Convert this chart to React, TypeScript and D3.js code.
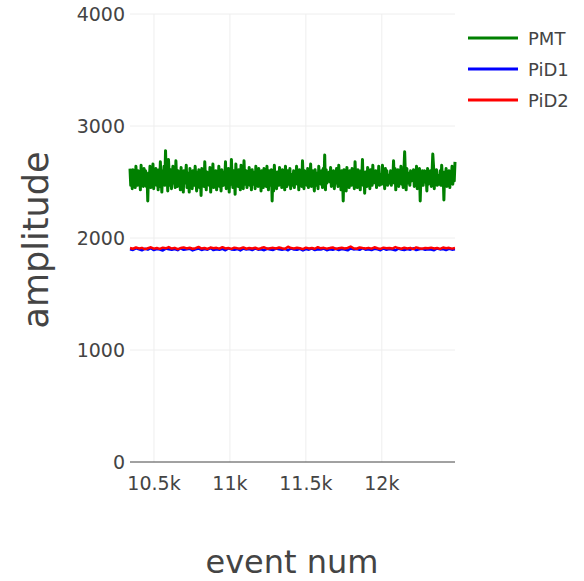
import React, { useEffect, useRef } from "react";
import * as d3 from "d3";

// event numbers covered by the samples (first and last)
const firstEvent = 10342;
const lastEvent = 12482;

const pmt = [
  2620, 2470, 2590, 2440, 2610, 2500, 2560, 2450, 2640, 2520, 2470, 2600, 2480, 2580, 2430, 2650, 2500, 2570, 2460, 2620,
  2510, 2600, 2460, 2560, 2330, 2580, 2490, 2640, 2450, 2570, 2520, 2660, 2440, 2590, 2500, 2620, 2470, 2550, 2430, 2610,
  2460, 2680, 2530, 2410, 2600, 2500, 2640, 2470, 2780, 2520, 2590, 2420, 2700, 2550, 2470, 2610, 2440, 2570, 2640, 2490,
  2530, 2450, 2690, 2520, 2460, 2600, 2500, 2580, 2430, 2630, 2480, 2560, 2410, 2600, 2490, 2540, 2650, 2450, 2580, 2520,
  2410, 2620, 2480, 2560, 2440, 2600, 2510, 2470, 2640, 2530, 2420, 2590, 2500, 2610, 2450, 2570, 2380, 2620, 2490, 2550,
  2460, 2680, 2520, 2430, 2590, 2500, 2560, 2470, 2630, 2410, 2580, 2520, 2660, 2450, 2540, 2490, 2600, 2430, 2570, 2510,
  2640, 2460, 2550, 2420, 2610, 2500, 2470, 2590, 2530, 2680, 2440, 2560, 2500, 2620, 2410, 2570, 2480, 2700, 2520, 2450,
  2600, 2540, 2390, 2660, 2500, 2580, 2460, 2610, 2520, 2430, 2650, 2490, 2570, 2440, 2690, 2510, 2480, 2600, 2450, 2580,
  2500, 2630, 2470, 2560, 2430, 2610, 2520, 2480, 2590, 2440, 2640, 2510, 2560, 2460, 2620, 2490, 2570, 2420, 2600, 2530,
  2450, 2620, 2510, 2580, 2460, 2640, 2500, 2430, 2600, 2540, 2470, 2610, 2330, 2570, 2420, 2650, 2490, 2560, 2440, 2590,
  2520, 2470, 2630, 2500, 2580, 2450, 2610, 2490, 2550, 2430, 2640, 2510, 2460, 2600, 2530, 2480, 2620, 2440, 2570, 2510,
  2470, 2600, 2450, 2580, 2520, 2640, 2480, 2560, 2430, 2610, 2500, 2570, 2460, 2690, 2520, 2440, 2600, 2500, 2580, 2470,
  2620, 2450, 2560, 2510, 2660, 2460, 2590, 2600, 2500, 2420, 2610, 2530, 2470, 2580, 2440, 2640, 2510, 2560, 2480, 2600,
  2450, 2620, 2500, 2740, 2430, 2610, 2490, 2550, 2550, 2590, 2500, 2630, 2460, 2580, 2520, 2600, 2440, 2570, 2490, 2620,
  2510, 2460, 2650, 2500, 2580, 2430, 2600, 2540, 2330, 2610, 2490, 2560, 2420, 2630, 2510, 2580, 2450, 2600, 2530, 2470,
  2620, 2500, 2560, 2440, 2680, 2510, 2580, 2450, 2610, 2490, 2540, 2430, 2600, 2520, 2700, 2470, 2570, 2400, 2590, 2510,
  2460, 2630, 2500, 2580, 2440, 2610, 2530, 2470, 2650, 2490, 2560, 2520, 2600, 2450, 2580, 2510, 2640, 2470, 2570, 2500,
  2480, 2650, 2510, 2580, 2440, 2620, 2530, 2600, 2470, 2560, 2560, 2490, 2600, 2470, 2560, 2520, 2690, 2490, 2620, 2430,
  2580, 2500, 2610, 2460, 2570, 2520, 2640, 2480, 2590, 2450, 2600, 2770, 2560, 2430, 2620, 2490, 2580, 2540, 2470, 2600,
  2510, 2520, 2560, 2610, 2460, 2570, 2500, 2640, 2440, 2590, 2520, 2620, 2330, 2560, 2510, 2600, 2470, 2580, 2600, 2500,
  2560, 2420, 2620, 2480, 2570, 2530, 2600, 2460, 2580, 2750, 2640, 2440, 2590, 2500, 2610, 2470, 2560, 2530, 2480, 2600,
  2470, 2650, 2510, 2580, 2340, 2590, 2510, 2620, 2460, 2560, 2500, 2600, 2450, 2590, 2530, 2640, 2480, 2570, 2510, 2680,
];

const pid1 = [
  1900, 1893, 1907, 1898, 1890, 1904, 1896, 1909, 1892, 1901,
  1897, 1888, 1905, 1899, 1894, 1902, 1891, 1908, 1895, 1900,
  1904, 1889, 1898, 1906, 1893, 1901, 1896, 1910, 1892, 1899,
  1895, 1903, 1890, 1907, 1898, 1894, 1902, 1889, 1905, 1897,
  1901, 1892, 1908, 1896, 1900, 1891, 1904, 1898, 1893, 1906,
  1899, 1895, 1902, 1890, 1907, 1897, 1894, 1903, 1889, 1901,
  1896, 1908, 1892, 1900, 1898, 1905, 1891, 1899, 1895, 1904,
  1893, 1902, 1897, 1890, 1906, 1898, 1901, 1894, 1909, 1896,
  1900, 1892, 1904, 1899, 1891, 1907, 1895, 1902, 1897, 1890,
  1905, 1898, 1893, 1901, 1896, 1908, 1892, 1899, 1903, 1894,
  1900, 1897, 1891, 1906, 1898, 1902, 1893, 1904, 1896, 1899,
];

const pid2 = [
  1910, 1904, 1915, 1907, 1912, 1901, 1909, 1917, 1905, 1911,
  1903, 1914, 1908, 1919, 1906, 1912, 1900, 1910, 1916, 1907,
  1913, 1904, 1909, 1920, 1906, 1911, 1902, 1915, 1908, 1912,
  1905, 1918, 1907, 1910, 1903, 1914, 1909, 1906, 1916, 1904,
  1911, 1907, 1913, 1902, 1910, 1917, 1905, 1909, 1912, 1906,
  1915, 1908, 1903, 1922, 1910, 1906, 1913, 1909, 1901, 1914,
  1907, 1911, 1904, 1918, 1908, 1912, 1905, 1910, 1916, 1903,
  1909, 1913, 1906, 1911, 1924, 1908, 1904, 1915, 1910, 1907,
  1912, 1905, 1917, 1909, 1903, 1914, 1908, 1911, 1906, 1919,
  1910, 1904, 1913, 1907, 1912, 1901, 1916, 1909, 1905, 1911,
  1908, 1914, 1906, 1910, 1903, 1915, 1909, 1912, 1905, 1910,
];

const seriesNames = ["PMT", "PiD1", "PiD2"];
const seriesColors = ["green", "blue", "red"];
const xTicks = [10500, 11000, 11500, 12000];
const xTickLabels = ["10.5k", "11k", "11.5k", "12k"];
const yTicks = [0, 1000, 2000, 3000, 4000];

const W = 584;
const H = 581;
const font = "'DejaVu Sans', Verdana, sans-serif";

const App = () => {
  const ref = useRef<SVGSVGElement | null>(null);

  useEffect(() => {
    const svg = d3.select(ref.current);
    svg.selectAll("*").remove();

    const left = 130, right = 455, top = 14, bottom = 462;
    const x = d3.scaleLinear().domain([firstEvent, lastEvent]).range([left, right]);
    const y = d3.scaleLinear().domain([0, 4000]).range([bottom, top]);

    // grid
    svg.append("g")
      .selectAll("line")
      .data(xTicks)
      .enter()
      .append("line")
      .attr("x1", (d) => x(d)).attr("x2", (d) => x(d))
      .attr("y1", top).attr("y2", bottom)
      .attr("stroke", "#eee").attr("stroke-width", 1);
    svg.append("g")
      .selectAll("line")
      .data(yTicks.filter((d) => d > 0))
      .enter()
      .append("line")
      .attr("x1", left).attr("x2", right)
      .attr("y1", (d) => y(d)).attr("y2", (d) => y(d))
      .attr("stroke", "#eee").attr("stroke-width", 1);

    const datasets = [pmt, pid1, pid2];
    datasets.forEach((vals, k) => {
      const xs = d3.scaleLinear().domain([0, vals.length - 1]).range([firstEvent, lastEvent]);
      const line = d3.line<number>()
        .x((d, i) => x(xs(i)))
        .y((d) => y(d));
      svg.append("path")
        .datum(vals)
        .attr("d", line)
        .attr("fill", "none")
        .attr("stroke", seriesColors[k])
        .attr("stroke-width", k === 0 ? 3 : 2.5)
        .attr("stroke-linejoin", "round");
    });

    // zero line
    svg.append("line")
      .attr("x1", left).attr("x2", right)
      .attr("y1", y(0)).attr("y2", y(0))
      .attr("stroke", "#444").attr("stroke-width", 1);

    // tick labels
    svg.append("g")
      .selectAll("text")
      .data(xTicks)
      .enter()
      .append("text")
      .attr("x", (d) => x(d))
      .attr("y", 490)
      .attr("text-anchor", "middle")
      .attr("font-family", font)
      .attr("font-size", 19)
      .attr("fill", "#444")
      .text((d, i) => xTickLabels[i]);
    svg.append("g")
      .selectAll("text")
      .data(yTicks)
      .enter()
      .append("text")
      .attr("x", 125)
      .attr("y", (d) => y(d) + 7)
      .attr("text-anchor", "end")
      .attr("font-family", font)
      .attr("font-size", 19)
      .attr("fill", "#444")
      .text((d) => String(d));

    // axis titles
    svg.append("text")
      .attr("x", 292).attr("y", 573)
      .attr("text-anchor", "middle")
      .attr("font-family", font)
      .attr("font-size", 32)
      .attr("fill", "#444")
      .text("event num");
    svg.append("text")
      .attr("transform", "translate(48,240) rotate(-90)")
      .attr("text-anchor", "middle")
      .attr("font-family", font)
      .attr("font-size", 35)
      .attr("fill", "#444")
      .text("amplitude");

    // legend
    const leg = svg.append("g")
      .selectAll("g")
      .data(seriesNames)
      .enter()
      .append("g")
      .attr("transform", (d, i) => `translate(468,${38 + i * 31})`);
    leg.append("line")
      .attr("x1", 0).attr("x2", 50)
      .attr("stroke", (d, i) => seriesColors[i])
      .attr("stroke-width", 3);
    leg.append("text")
      .attr("x", 60).attr("y", 6.5)
      .attr("font-family", font)
      .attr("font-size", 18)
      .attr("fill", "#444")
      .text((d) => d);
  }, []);

  return (
    <svg
      ref={ref}
      width={W}
      height={H}
      style={{ position: "absolute", left: 0, top: 0, background: "#fff" }}
    />
  );
};

export default App;
